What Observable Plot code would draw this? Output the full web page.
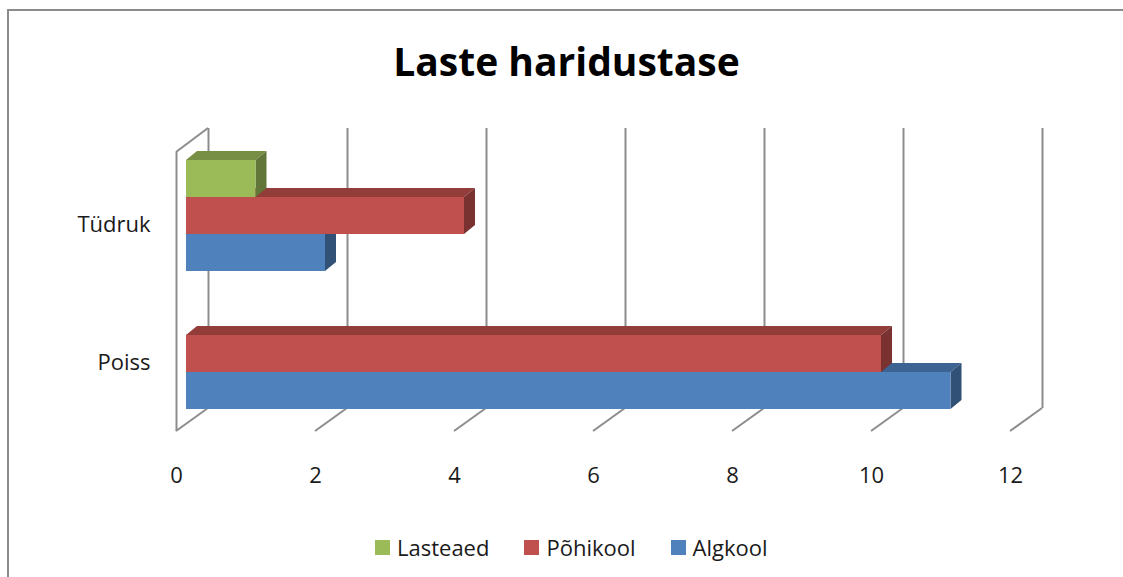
<!DOCTYPE html>
<html><head><meta charset="utf-8">
<script src="https://cdn.jsdelivr.net/npm/d3@7"></script>
<script src="https://cdn.jsdelivr.net/npm/@observablehq/plot@0.6"></script>
<style>
html,body{margin:0;padding:0;background:#fff;}
body{width:1123px;height:577px;overflow:hidden;position:relative;font-family:"Open Sans",sans-serif;}
#frame{position:absolute;left:7px;top:9px;width:1300px;height:800px;border:2px solid #8c8c8c;box-sizing:border-box;}
#title{position:absolute;left:0;width:1133px;top:41px;text-align:center;font-weight:700;font-size:39px;line-height:39px;color:#000;}
#chart{position:absolute;left:0;top:110px;}
#legend{position:absolute;left:375px;top:530px;height:34px;display:flex;align-items:center;font-size:22px;color:#1a1a1a;}
.item{display:flex;align-items:center;margin-right:35px;}
.sw{width:15px;height:15px;margin-right:7px;}
</style></head><body>
<div id="frame"></div>
<div id="title">Laste haridustase</div>
<div id="chart"></div>
<div id="legend"></div>
<script>
const categories = ["Tüdruk", "Poiss"];
const series = ["Lasteaed", "Põhikool", "Algkool"];
const colors = ["#9bbb59", "#c0504d", "#4f81bd"];
const lasteaed = [1, 0];
const pohikool = [4, 10];
const algkool = [2, 11];
const xTicks = [0, 2, 4, 6, 8, 10, 12];

const valuesBySeries = {"Lasteaed": lasteaed, "Põhikool": pohikool, "Algkool": algkool};
// draw back-to-front: Algkool first, Lasteaed last
const rows = [];
series.slice().reverse().forEach(s => {
  categories.forEach((c, i) => rows.push({category: c, series: s, value: valuesBySeries[s][i]}));
});

const W = 1123, H = 390, ML = 186, MR = 103, MT = 50, MB = 91;
const BDX = 11, BDY = 9;      // bar depth
const WDX = 22, WDY = 23;     // wall offset
const GAP = 27;               // gap between facet bands
const GRID = "#8c8c8c";
const gridStyle = {stroke: GRID, strokeWidth: 2};

const chart = Plot.plot({
  width: W, height: H,
  marginLeft: ML, marginRight: MR, marginTop: MT, marginBottom: MB,
  style: {fontFamily: "Open Sans", fontSize: "22px", color: "#1a1a1a", background: "transparent", overflow: "visible"},
  x: {domain: [0, 12]},
  y: {domain: series, padding: 0, axis: null},
  fy: {domain: categories, paddingInner: 0.196, paddingOuter: 0},
  color: {domain: series, range: colors},
  marks: [
    // back wall gridlines (split across the two facet bands)
    Plot.ruleX(xTicks, {x: d => d, fy: () => categories[0], dx: WDX, insetTop: -32, insetBottom: -GAP, ...gridStyle}),
    Plot.ruleX(xTicks, {x: d => d, fy: () => categories[1], dx: WDX, insetTop: 0, insetBottom: 1, ...gridStyle}),
    // left wall front edge
    Plot.ruleX([0], {x: d => d, fy: () => categories[0], dx: -10, insetTop: -8, insetBottom: -GAP, ...gridStyle}),
    Plot.ruleX([0], {x: d => d, fy: () => categories[1], dx: -10, insetTop: 0, insetBottom: -22, ...gridStyle}),
    Plot.barX(rows, {x: "value", y: "series", fy: "category", fill: "series"}),
    Plot.axisX(xTicks, {tickSize: 0, tickPadding: 58, dx: -10, fontSize: 22, fill: "#1a1a1a", tickFormat: d => String(d), label: null}),
    Plot.axisFy({anchor: "left", tickSize: 0, tickPadding: 36, dy: 9, fontSize: 22, fill: "#1a1a1a", label: null})
  ]
});

const NS = "http://www.w3.org/2000/svg";
// 3D faces on bars
chart.querySelectorAll('g[aria-label="bar"] rect').forEach(r => {
  const x = +r.getAttribute("x"), y = +r.getAttribute("y");
  const w = +r.getAttribute("width"), h = +r.getAttribute("height");
  if (!(w > 0.5)) { r.remove(); return; }
  const c = d3.color(r.getAttribute("fill"));
  const p = r.parentNode;
  const top = document.createElementNS(NS, "polygon");
  top.setAttribute("points", [[x, y], [x + w, y], [x + w + BDX, y - BDY], [x + BDX, y - BDY]].join(" "));
  top.setAttribute("fill", c.darker(0.75).formatHex());
  const side = document.createElementNS(NS, "polygon");
  side.setAttribute("points", [[x + w, y], [x + w + BDX, y - BDY], [x + w + BDX, y + h - BDY], [x + w, y + h]].join(" "));
  side.setAttribute("fill", c.darker(1.3).formatHex());
  p.appendChild(top); p.appendChild(side); p.appendChild(r);
});

// floor diagonals and left wall top edge
const xs = chart.scale("x");
const g = document.createElementNS(NS, "g");
g.setAttribute("stroke", GRID); g.setAttribute("stroke-width", 2); g.setAttribute("fill", "none");
const addLine = (x1, y1, x2, y2) => {
  const l = document.createElementNS(NS, "line");
  l.setAttribute("x1", x1); l.setAttribute("y1", y1); l.setAttribute("x2", x2); l.setAttribute("y2", y2);
  g.appendChild(l);
};
const floorBack = H - MB - 1;
xTicks.forEach(v => {
  const xb = xs.apply(v) + WDX;
  addLine(xb, floorBack, xb - 32, floorBack + WDY);
});
addLine(xs.apply(0) - 10, MT - 8, xs.apply(0) + WDX, MT - 32);
const barG = chart.querySelector('g[aria-label="bar"]');
if (barG && barG.parentNode === chart) chart.insertBefore(g, barG); else chart.appendChild(g);

document.getElementById("chart").appendChild(chart);

// legend
const legend = d3.select("#legend");
series.forEach((s, i) => {
  const it = legend.append("div").attr("class", "item");
  it.append("div").attr("class", "sw").style("background", colors[i]);
  it.append("span").text(s);
});
</script>
</body></html>
